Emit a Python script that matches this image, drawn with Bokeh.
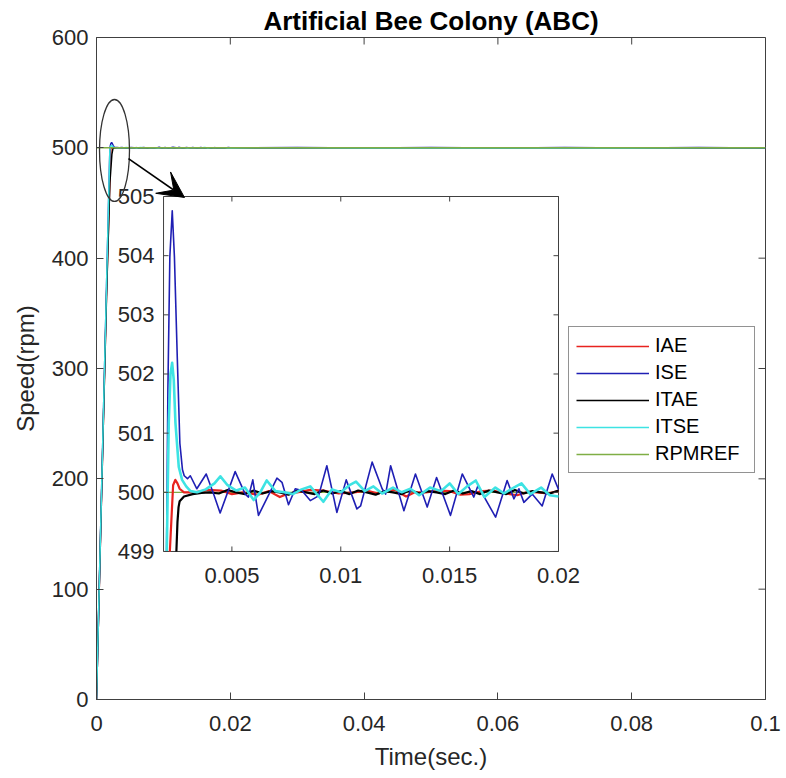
import math
from bokeh.plotting import figure
from bokeh.models import (Range1d, FixedTicker, Legend, LegendItem, Arrow, VeeHead)
from bokeh.embed import file_html
from bokeh.resources import INLINE
from bokeh.core.properties import value

# ---------------- data ----------------
TITLE = "Artificial Bee Colony (ABC)"
X_LABEL = "Time(sec.)"
Y_LABEL = "Speed(rpm)"
series_names = ["IAE", "ISE", "ITAE", "ITSE", "RPMREF"]

x_ticks = [0, 0.02, 0.04, 0.06, 0.08, 0.1]
x_tick_labels = ["0", "0.02", "0.04", "0.06", "0.08", "0.1"]
y_ticks = [0, 100, 200, 300, 400, 500, 600]
y_tick_labels = ["0", "100", "200", "300", "400", "500", "600"]

inset_x_ticks = [0.005, 0.01, 0.015, 0.02]
inset_x_tick_labels = ["0.005", "0.01", "0.015", "0.02"]
inset_y_ticks = [499, 500, 501, 502, 503, 504, 505]
inset_y_tick_labels = ["499", "500", "501", "502", "503", "504", "505"]
inset_xlim = [0.00186, 0.02]
inset_ylim = [499, 505]

tail_t = [0.03, 0.04, 0.05, 0.06, 0.07, 0.08, 0.09, 0.1]

t_iae = [0, 0.0005, 0.001, 0.0015, 0.002, 0.00215, 0.0023, 0.0024, 0.0025, 0.0026, 0.0028,
         0.0033, 0.0039, 0.0045, 0.0050, 0.0055, 0.0062, 0.0067, 0.0072, 0.0076, 0.0080,
         0.0086, 0.0092, 0.0099, 0.0106, 0.0112, 0.0117, 0.0121, 0.0125, 0.0130, 0.0134,
         0.0139, 0.0145, 0.0150, 0.0155, 0.0159, 0.0165, 0.0170, 0.0176, 0.0181, 0.0186,
         0.0190, 0.0195, 0.0200] + tail_t
v_iae = [0, 122, 245, 368, 470, 499.0, 500.12, 500.21, 500.15, 500.06, 500.0,
         500.0, 500.04, 500.03, 499.97, 500.0, 499.96, 500.02, 499.92, 499.98, 500.0,
         500.04, 500.03, 499.98, 500.0, 500.03, 499.98, 500.02, 500.04, 499.93, 500.0,
         500.0, 500.03, 500.02, 499.96, 499.97, 500.02, 500.03, 499.98, 499.95, 500.01,
         500.0, 499.98, 500.02] + [500.02, 499.98, 500.01, 499.99, 500.02, 499.98, 500.01, 500.0]

t_ise = [0, 0.0005, 0.001, 0.0015, 0.0019, 0.002, 0.00206, 0.00215, 0.00226, 0.00236,
         0.00249, 0.00261, 0.00273, 0.00281, 0.00296, 0.00309, 0.00339, 0.00382, 0.00416,
         0.00446, 0.00515, 0.00561, 0.00576, 0.00596, 0.00622, 0.00707, 0.00730, 0.00760,
         0.00791, 0.00821, 0.00860, 0.00898, 0.00936, 0.00982, 0.01025, 0.01074, 0.01091,
         0.01144, 0.01190, 0.01206, 0.01229, 0.01290, 0.01343, 0.01397, 0.01440, 0.01504,
         0.01558, 0.01611, 0.01630, 0.01711, 0.01764, 0.01795, 0.01818, 0.01841, 0.01879,
         0.01925, 0.01971, 0.0200] + tail_t
v_ise = [0, 125, 250, 375, 475, 499.03, 501.73, 503.98, 504.76, 503.98,
         502.29, 500.83, 500.38, 500.28, 500.23, 500.28, 500.06, 500.31, 499.97,
         499.65, 500.35, 499.97, 499.92, 500.21, 499.61, 500.24, 500.17, 499.79,
         500.06, 500.03, 499.86, 499.94, 500.45, 499.66, 500.21, 499.72, 499.77,
         500.51, 500.06, 499.97, 500.45, 499.69, 500.31, 499.75, 500.25, 499.61,
         500.31, 499.92, 500.11, 499.58, 500.20, 499.89, 500.06, 499.83, 499.97,
         499.77, 500.31, 500.05] + [500.2, 499.8, 500.2, 499.8, 500.2, 499.8, 500.2, 499.9]

t_itae = [0, 0.0005, 0.001, 0.0015, 0.002, 0.0023, 0.00245, 0.0025, 0.00255, 0.0026, 0.0028,
          0.0032, 0.0036, 0.0040, 0.0044, 0.0048, 0.0052, 0.0056, 0.0060, 0.0064, 0.0068,
          0.0072, 0.0076, 0.0080, 0.0084, 0.0088, 0.0092, 0.0096, 0.0100, 0.0104, 0.0108,
          0.0112, 0.0116, 0.0120, 0.0124, 0.0128, 0.0132, 0.0136, 0.0140, 0.0144, 0.0148,
          0.0152, 0.0156, 0.0160, 0.0164, 0.0168, 0.0172, 0.0176, 0.0180, 0.0184, 0.0188,
          0.0192, 0.0196, 0.0200] + tail_t
v_itae = [0, 122, 245, 365, 468, 494, 499.0, 499.5, 499.75, 499.85, 499.93,
          499.97, 499.99, 500.0, 499.98, 500.04, 500.0, 499.97, 500.03, 499.98, 500.02,
          500.0, 499.96, 500.03, 500.0, 499.97, 500.03, 499.98, 500.02, 499.97, 500.03,
          500.0, 499.96, 500.02, 500.0, 499.97, 500.04, 499.98, 500.02, 500.0, 499.97,
          500.03, 499.98, 500.02, 499.97, 500.03, 500.0, 499.97, 500.04, 499.98, 500.02,
          500.0, 499.98, 500.03] + [500.02, 499.98, 500.02, 499.99, 500.02, 499.98, 500.01, 500.0]

t_itse = [0, 0.0005, 0.001, 0.0015, 0.0019, 0.002, 0.0021, 0.00218, 0.002256, 0.00233,
          0.002408, 0.00256, 0.002713, 0.0029, 0.0031, 0.0034, 0.0038, 0.0042, 0.00447,
          0.0048, 0.0052, 0.0056, 0.0060, 0.0063, 0.0066, 0.0070, 0.0074, 0.0078, 0.0082,
          0.0086, 0.0092, 0.0096, 0.0100, 0.0104, 0.0107, 0.0111, 0.0115, 0.0119, 0.0124,
          0.0128, 0.0132, 0.0136, 0.0141, 0.0146, 0.0150, 0.0154, 0.0158, 0.0162, 0.0166,
          0.0171, 0.0175, 0.0178, 0.0183, 0.0187, 0.0192, 0.0196, 0.0200] + tail_t
v_itse = [0, 125, 250, 375, 475, 498.8, 501.17, 502.0, 502.19, 501.9,
          501.17, 500.43, 500.21, 500.1, 500.02, 500.0, 500.05, 500.15, 500.27,
          500.12, 500.03, 500.08, 499.87, 500.0, 500.2, 500.02, 500.0, 499.97, 500.05,
          500.1, 499.84, 500.05, 500.0, 500.12, 500.18, 500.02, 500.1, 499.98, 500.08,
          500.0, 500.06, 499.95, 500.08, 500.02, 500.15, 499.97, 500.1, 500.2, 499.92,
          500.08, 499.98, 500.05, 500.15, 499.97, 500.08, 499.95, 499.93] + [500.1, 499.9, 500.1, 499.9, 500.1, 499.9, 500.1, 500.0]

t_ref = [0, 0.1]
v_ref = [500, 500]

series_t = [t_iae, t_ise, t_itae, t_itse, t_ref]
series_v = [v_iae, v_ise, v_itae, v_itse, v_ref]
series_colors = ["#e8231f", "#1f1fb4", "#000000", "#3de3e3", "#7fae45"]
inset_widths = [2.2, 1.6, 2.2, 2.6, 1.2]

# ---------------- style constants ----------------
FONT = "Liberation Sans"
AX_COL = "#404040"
TXT_COL = "#262626"

p = figure(width=786, height=778, x_range=Range1d(0, 0.1), y_range=Range1d(0, 600),
           output_backend="svg", toolbar_location=None,
           min_border_left=96, min_border_right=21, min_border_top=37, min_border_bottom=79)
p.background_fill_color = "white"
p.border_fill_color = "white"
p.grid.visible = False
p.outline_line_color = AX_COL
p.outline_line_width = 1

p.title.text = TITLE
p.title.align = "center"
p.title.text_font = FONT
p.title.text_font_style = "bold"
p.title.text_font_size = "26px"
p.title.text_color = "#000000"
p.title.standoff = 4

for ax in (p.xaxis[0], p.yaxis[0]):
    ax.axis_line_color = AX_COL
    ax.major_tick_line_color = AX_COL
    ax.major_tick_in = 7
    ax.major_tick_out = 0
    ax.minor_tick_line_color = None
    ax.major_label_text_font = FONT
    ax.major_label_text_font_size = "22px"
    ax.major_label_text_color = TXT_COL
    ax.axis_label_text_font = FONT
    ax.axis_label_text_font_size = "24px"
    ax.axis_label_text_color = TXT_COL
    ax.axis_label_text_font_style = "normal"

p.xaxis.ticker = FixedTicker(ticks=x_ticks)
p.xaxis.major_label_overrides = {t: l for t, l in zip(x_ticks, x_tick_labels)}
p.yaxis.ticker = FixedTicker(ticks=y_ticks)
p.yaxis.major_label_overrides = {t: l for t, l in zip(y_ticks, y_tick_labels)}
p.xaxis.axis_label = X_LABEL
p.yaxis.axis_label = Y_LABEL
p.xaxis.major_label_standoff = 16
p.xaxis.axis_label_standoff = 9
p.yaxis.major_label_standoff = 8
p.yaxis.axis_label_standoff = 10

# top / right inward ticks (box on)
p.ray(x=x_ticks, y=[600] * len(x_ticks), length=7, angle=-math.pi / 2,
      length_units="screen", line_color=AX_COL, line_width=1)
p.ray(x=[0.1] * len(y_ticks), y=y_ticks, length=7, angle=math.pi,
      length_units="screen", line_color=AX_COL, line_width=1)

# main lines
main_renderers = []
for t, v, c in zip(series_t, series_v, series_colors):
    r = p.line(t, v, line_color=c, line_width=1.5)
    main_renderers.append(r)

# ---------------- inset (extra ranges mapped to a sub-rectangle) ----------------
fx0, fx1 = 0.1002, 0.6906      # fraction of the frame width
fy0, fy1 = 0.2236, 0.7598      # fraction of the frame height (from bottom)
ix0, ix1 = inset_xlim
iy0, iy1 = inset_ylim
span_x = (ix1 - ix0) / (fx1 - fx0)
span_y = (iy1 - iy0) / (fy1 - fy0)
p.extra_x_ranges = {"ix": Range1d(ix0 - fx0 * span_x, ix0 - fx0 * span_x + span_x)}
p.extra_y_ranges = {"iy": Range1d(iy0 - fy0 * span_y, iy0 - fy0 * span_y + span_y)}
IN = dict(x_range_name="ix", y_range_name="iy")

p.quad(left=[ix0], right=[ix1], bottom=[iy0], top=[iy1], fill_color="white",
       line_color=AX_COL, line_width=1, **IN)


def clip_segment(xa, ya, xb, yb, x0, x1, y0, y1):
    dx, dy = xb - xa, yb - ya
    u0, u1 = 0.0, 1.0
    for pp, qq in ((-dx, xa - x0), (dx, x1 - xa), (-dy, ya - y0), (dy, y1 - ya)):
        if pp == 0:
            if qq < 0:
                return None
        else:
            r = qq / pp
            if pp < 0:
                u0 = max(u0, r)
            else:
                u1 = min(u1, r)
    if u0 > u1:
        return None
    return (xa + u0 * dx, ya + u0 * dy, xa + u1 * dx, ya + u1 * dy)


def clip_polyline(xs, ys, x0, x1, y0, y1):
    out_x, out_y = [], []
    cx, cy = [], []
    for i in range(len(xs) - 1):
        s = clip_segment(xs[i], ys[i], xs[i + 1], ys[i + 1], x0, x1, y0, y1)
        if s is None:
            if len(cx) > 1:
                out_x.append(cx); out_y.append(cy)
            cx, cy = [], []
            continue
        ax_, ay_, bx_, by_ = s
        if cx and abs(cx[-1] - ax_) < 1e-12 and abs(cy[-1] - ay_) < 1e-9:
            cx.append(bx_); cy.append(by_)
        else:
            if len(cx) > 1:
                out_x.append(cx); out_y.append(cy)
            cx, cy = [ax_, bx_], [ay_, by_]
    if len(cx) > 1:
        out_x.append(cx); out_y.append(cy)
    return out_x, out_y


inset_order = [4, 0, 2, 1, 3]   # RPMREF, IAE, ITAE, ISE, ITSE
for k in inset_order:
    xs, ys = clip_polyline(series_t[k], series_v[k], ix0, ix1, iy0, iy1)
    p.multi_line(xs=xs, ys=ys, line_color=series_colors[k], line_width=inset_widths[k],
                 line_join="round", **IN)

# inset ticks (inward on all four sides)
n = len(inset_x_ticks)
p.ray(x=inset_x_ticks, y=[iy0] * n, length=5, angle=math.pi / 2, length_units="screen",
      line_color=AX_COL, **IN)
p.ray(x=inset_x_ticks, y=[iy1] * n, length=5, angle=-math.pi / 2, length_units="screen",
      line_color=AX_COL, **IN)
m = len(inset_y_ticks)
p.ray(x=[ix0] * m, y=inset_y_ticks, length=5, angle=0, length_units="screen",
      line_color=AX_COL, **IN)
p.ray(x=[ix1] * m, y=inset_y_ticks, length=5, angle=math.pi, length_units="screen",
      line_color=AX_COL, **IN)

p.text(x=inset_x_ticks, y=[iy0] * n, text=inset_x_tick_labels, y_offset=17,
       text_align="center", text_baseline="top", text_font=value(FONT),
       text_font_size="22px", text_color=TXT_COL, **IN)
p.text(x=[ix0] * m, y=inset_y_ticks, text=inset_y_tick_labels, x_offset=-9,
       text_align="right", text_baseline="middle", text_font=value(FONT),
       text_font_size="22px", text_color=TXT_COL, **IN)

# zoom ellipse and arrow (annotations)
p.ellipse(x=[0.00269], y=[497.6], width=[0.00448], height=[92.4], fill_color=None,
          line_color="#333333", line_width=1.3)
p.add_layout(Arrow(end=VeeHead(size=26, fill_color="black", line_color="black"),
                   x_start=0.00478, y_start=490.3, x_end=0.01315, y_end=455.0,
                   line_color="black", line_width=1.6))

# legend
legend = Legend(items=[LegendItem(label=nm, renderers=[r]) for nm, r in zip(series_names, main_renderers)],
                location=(472, 226), orientation="vertical")
legend.label_text_font = FONT
legend.label_text_font_size = "20px"
legend.label_text_color = "#000000"
legend.glyph_width = 73
legend.glyph_height = 20
legend.label_height = 20
legend.label_width = 92
legend.label_standoff = 6
legend.spacing = 4
legend.padding = 7
legend.margin = 0
legend.border_line_color = "#262626"
legend.border_line_width = 1
legend.background_fill_color = "white"
legend.background_fill_alpha = 1
p.add_layout(legend)

open("out.html", "w").write(file_html(p, INLINE))
